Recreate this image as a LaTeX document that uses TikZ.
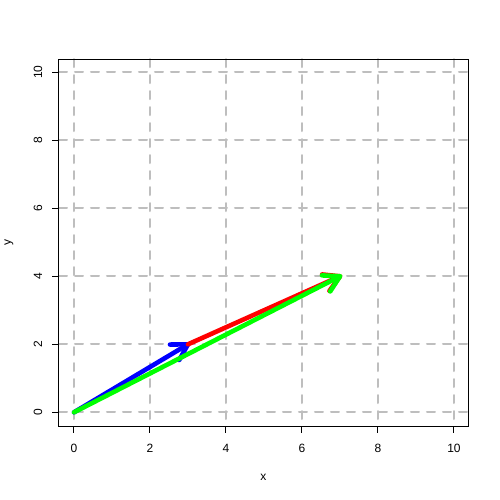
\documentclass[tikz,border=0pt]{standalone}
\usepackage{fontspec}
\setmainfont{Liberation Sans}
\usetikzlibrary{calc}
\definecolor{gridgray}{RGB}{190,190,190}
\definecolor{pblue}{RGB}{0,0,255}
\definecolor{pred}{RGB}{255,0,0}
\definecolor{pgreen}{RGB}{0,255,0}
\tikzset{
  gridline/.style={draw=gridgray,line width=1pt,dash pattern=on 4pt off 4pt,line cap=round},
  frame/.style={draw=black,line width=0.5pt},
  tick/.style={draw=black,line width=0.5pt},
  ticklabel/.style={font=\fontsize{6pt}{7pt}\selectfont,inner sep=0pt},
  vec/.style={line width=2.3pt,line cap=round,line join=round},
}
\newcommand{\vecarrow}[3]{%
  \draw[vec,#1] (#2) -- (#3);
  \draw[vec,#1] ($(#3)!9pt!30:(#2)$) -- (#3) -- ($(#3)!9pt!-30:(#2)$);
}
\begin{document}
\begin{tikzpicture}[x=0.5pt,y=-0.5pt]
\useasboundingbox (0,0) rectangle (500,500);
\fill[white] (0,0) rectangle (500,500);
% grid
\foreach \i in {0,2,...,10}{
  \draw[gridline] ({74+38*\i},59) -- ({74+38*\i},426);
  \draw[gridline] (59,{412.3-34*\i}) -- (469,{412.3-34*\i});
}
% vectors
\coordinate (o) at (74,412.3);
\coordinate (b) at (188,344.3);
\coordinate (g) at (340,276.3);
\vecarrow{pblue}{o}{b}
\vecarrow{pred}{b}{g}
\vecarrow{pgreen}{o}{g}
% frame
\draw[frame] (59,59) rectangle (469,426);
% x axis ticks
\foreach \i in {0,2,...,10}{
  \draw[tick] ({74+38*\i},426) -- ({74+38*\i},433);
  \node[ticklabel] (xl\i) at ({74+38*\i},448) {\i};
}
% y axis ticks
\foreach \i in {0,2,...,10}{
  \draw[tick] (59,{412.3-34*\i}) -- (52,{412.3-34*\i});
  \node[ticklabel,rotate=90] (yl\i) at (38,{412.3-34*\i}) {\i};
}
\node[ticklabel] (xlab) at (263.5,477) {x};
\node[ticklabel,rotate=90] (ylab) at (9,242) {y};
\end{tikzpicture}
\end{document}
